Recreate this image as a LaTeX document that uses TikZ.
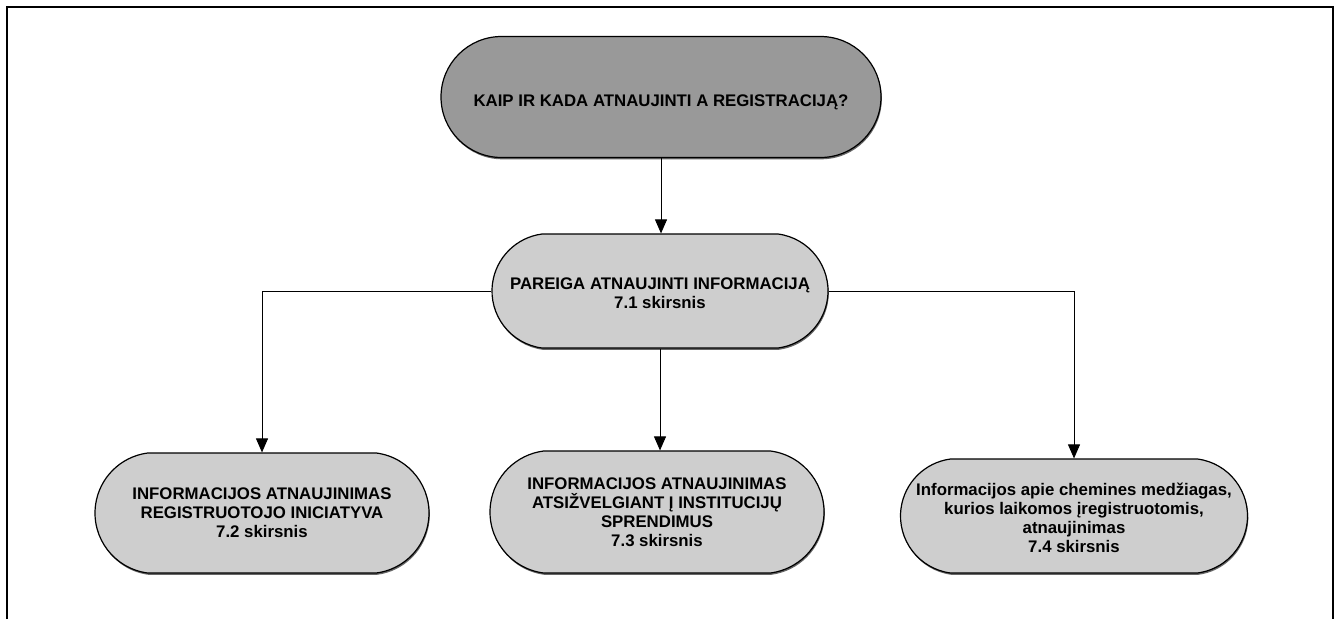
\documentclass[tikz,border=0pt]{standalone}
\usepackage{fontspec}
\setmainfont{Liberation Sans}
\usetikzlibrary{shapes.misc,arrows.meta,shadows}
\definecolor{headfill}{RGB}{153,153,153}
\definecolor{boxfill}{RGB}{206,206,206}
\begin{document}
\begin{tikzpicture}[x=1pt,y=-1pt,
  capsule/.style={rounded rectangle, rounded rectangle arc length=165, draw=black,
    line width=1.2pt, inner sep=0pt, fill=boxfill,
    drop shadow={shadow xshift=0.8pt, shadow yshift=-1.8pt, fill=black!60, opacity=1}},
  capsuletext/.style={align=center, inner sep=0pt,
    font=\fontsize{16.8pt}{19pt}\selectfont\bfseries},
  link/.style={draw=black, line width=0.9pt},
  arrowlink/.style={link, -{Triangle[width=12pt,length=14pt]}}
]
\useasboundingbox (0,0) rectangle (1340,619);
\fill[white] (0,0) rectangle (1340,619);

% outer frame, open at the bottom
\draw[line width=2.4pt] (7,619) -- (7,7) -- (1333,7) -- (1333,619);

% question box
\node[capsule, fill=headfill, rounded rectangle arc length=180,
      minimum width=440pt, minimum height=121pt] (top) at (661,97) {};
\node[capsuletext] (toptext) at (661,102) {KAIP IR KADA ATNAUJINTI A REGISTRACIJĄ?};

% general duty
\node[capsule, minimum width=336pt, minimum height=114pt] (duty) at (660,291) {};
\node[capsuletext] (dutytext) at (660,293) {PAREIGA ATNAUJINTI INFORMACIJĄ\\7.1 skirsnis};

% three sub-cases
\node[capsule, minimum width=334pt, minimum height=120pt] (own) at (262,513) {};
\node[capsuletext] (owntext) at (own) {INFORMACIJOS ATNAUJINIMAS\\REGISTRUOTOJO INICIATYVA\\7.2 skirsnis};

\node[capsule, minimum width=334pt, minimum height=122pt] (auth) at (657,512) {};
\node[capsuletext] (authtext) at (auth) {INFORMACIJOS ATNAUJINIMAS\\ATSIŽVELGIANT Į INSTITUCIJŲ\\SPRENDIMUS\\7.3 skirsnis};

\node[capsule, minimum width=347pt, minimum height=114pt] (reg) at (1074,516) {};
\node[capsuletext] (regtext) at (1074,518) {Informacijos apie chemines medžiagas,\\kurios laikomos įregistruotomis,\\atnaujinimas\\7.4 skirsnis};

% connectors
\draw[arrowlink] (top.south) -- (top.south |- duty.north);
\draw[arrowlink] (duty.west) -| (own.north);
\draw[arrowlink] (duty.south) -- (duty.south |- auth.north);
\draw[arrowlink] (duty.east) -| (reg.north);
\end{tikzpicture}
\end{document}
